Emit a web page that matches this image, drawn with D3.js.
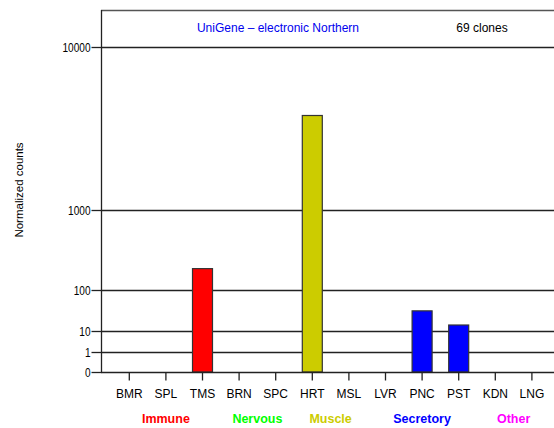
<!DOCTYPE html>
<html><head><meta charset="utf-8">
<script src="https://cdn.jsdelivr.net/npm/d3@7"></script>
<style>body{margin:0;background:#fff}svg{display:block}</style>
</head><body>
<script>
const tissues = ["BMR","SPL","TMS","BRN","SPC","HRT","MSL","LVR","PNC","PST","KDN","LNG"];
const counts  = [0,0,185,0,0,3800,0,0,31,14,0,0];
const tissueGroup = [0,0,0,1,1,2,2,3,3,3,4,4];
const groupNames  = ["Immune","Nervous","Muscle","Secretory","Other"];
const groupColors = ["#ff0000","#00ff00","#cccc00","#0000ff","#ff00ff"];
const yTicks = [0,1,10,100,1000,10000];
const titleText = "UniGene \u2013 electronic Northern";
const cloneText = "69 clones";
const yLabel = "Normalized counts";

(function(){
const W = 554, H = 428;
const svg = d3.select("body").append("svg").attr("width", W).attr("height", H);

const mLeft = 101, mRight = 554, mTop = 10, mBottom = 372;
const tr = v => v <= 1 ? v : 1 + Math.log10(v);
const y = d3.scaleLinear().domain([0,1,2,3,4,5]).range([372,352,331,290,210,47]);
const yv = v => y(tr(v));
const x = d3.scaleBand().domain(tissues).range([111, 111 + 12*36.6]).paddingInner(0.45).paddingOuter(0.225);
const cx = t => x(t) + x.bandwidth()/2;

// grid lines
svg.append("g").selectAll("line").data(yTicks.slice(1)).join("line")
  .attr("x1", mLeft).attr("x2", mRight)
  .attr("y1", d => Math.round(yv(d)) + 0.5).attr("y2", d => Math.round(yv(d)) + 0.5)
  .attr("stroke", "#222").attr("stroke-width", 1.3);

// bars
svg.append("g").selectAll("rect").data(tissues.map((t,i)=>({t, v:counts[i], g:tissueGroup[i]})).filter(d=>d.v>0)).join("rect")
  .attr("x", d => cx(d.t) - 10)
  .attr("width", 20)
  .attr("y", d => yv(d.v))
  .attr("height", d => y(0) - yv(d.v))
  .attr("fill", d => groupColors[d.g])
  .attr("stroke", "#333").attr("stroke-width", 1.2);

// frame
svg.append("line").attr("x1", mLeft).attr("x2", mRight).attr("y1", mTop+0.5).attr("y2", mTop+0.5).attr("stroke", "#555").attr("stroke-width", 1.5);
// y axis
const yAxis = d3.axisLeft(y).tickValues(yTicks.map(tr)).tickFormat((d,i)=>yTicks[i]).tickSize(10).tickPadding(1);
const gy = svg.append("g").attr("transform", `translate(${mLeft+0.5},0)`).call(yAxis);
gy.select(".domain").attr("d", `M0,${mTop}V${mBottom}`).attr("stroke", "#222").attr("stroke-width", 1.3);
gy.selectAll(".tick line").attr("stroke", "#222").attr("stroke-width", 1.3);
gy.selectAll(".tick text").attr("font-family", "'Liberation Sans',Arial,sans-serif").attr("font-size", 13).attr("fill", "#000")
  .attr("textLength", function(){ return 5.6 * this.textContent.length; }).attr("lengthAdjust", "spacingAndGlyphs");

// x axis
const xAxis = d3.axisBottom(x).tickSize(8).tickPadding(9);
const gx = svg.append("g").attr("transform", `translate(0,${mBottom+0.5})`).call(xAxis);
gx.select(".domain").attr("d", `M${mLeft},0H${mRight}`).attr("stroke", "#222").attr("stroke-width", 1.3);
gx.selectAll(".tick line").attr("stroke", "#222").attr("stroke-width", 1.3);
gx.selectAll(".tick text").attr("font-family", "'Liberation Sans',Arial,sans-serif").attr("font-size", 12).attr("fill", "#000");

// group labels
groupNames.forEach((g, gi) => {
  const members = tissues.filter((t,i)=>tissueGroup[i]===gi);
  const c = d3.mean(members, cx);
  svg.append("text").attr("x", c).attr("y", 423).attr("text-anchor","middle")
    .attr("font-family","'Liberation Sans',Arial,sans-serif").attr("font-weight","bold").attr("font-size", 12.5)
    .attr("fill", groupColors[gi]).text(g);
});

// title texts
svg.append("text").attr("x", 278).attr("y", 32).attr("text-anchor","middle")
  .attr("font-family","'Liberation Sans',Arial,sans-serif").attr("font-size", 12).attr("fill","#0000ee").text(titleText);
svg.append("text").attr("x", 482).attr("y", 32).attr("text-anchor","middle")
  .attr("font-family","'Liberation Sans',Arial,sans-serif").attr("font-size", 12).attr("fill","#000").text(cloneText);

// y label
svg.append("text").attr("transform","translate(23,190) rotate(-90)").attr("text-anchor","middle")
  .attr("font-family","'Liberation Sans',Arial,sans-serif").attr("font-size", 11.5).attr("fill","#000").text(yLabel);
})();
</script>
</body></html>
